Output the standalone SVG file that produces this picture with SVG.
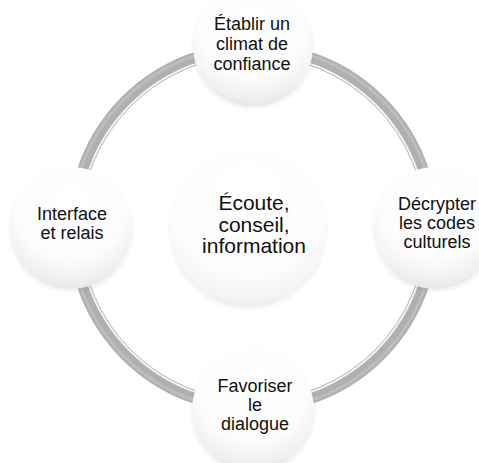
<svg xmlns="http://www.w3.org/2000/svg" width="479" height="463" viewBox="0 0 479 463">
<defs>
<radialGradient id="sph" cx="50%" cy="30%" r="70%">
<stop offset="0" stop-color="#ffffff"/>
<stop offset="0.65" stop-color="#fcfcfc"/>
<stop offset="0.9" stop-color="#f0f0f0"/>
<stop offset="1" stop-color="#e6e6e6"/>
</radialGradient>
<radialGradient id="sphc" cx="50%" cy="30%" r="70%">
<stop offset="0" stop-color="#ffffff"/>
<stop offset="0.7" stop-color="#fdfdfd"/>
<stop offset="0.95" stop-color="#f3f3f3"/>
<stop offset="1" stop-color="#ececec"/>
</radialGradient>
<filter id="sh" x="-20%" y="-20%" width="140%" height="140%">
<feGaussianBlur in="SourceAlpha" stdDeviation="2"/>
<feOffset dx="0" dy="2"/>
<feComponentTransfer><feFuncA type="linear" slope="0.08"/></feComponentTransfer>
<feMerge><feMergeNode/><feMergeNode in="SourceGraphic"/></feMerge>
</filter>
</defs>
<style>
.t{font-family:"Liberation Sans",Arial,sans-serif;font-size:18px;fill:#111;text-anchor:middle}
.c{font-size:21px}
.node{fill:url(#sph);filter:url(#sh)}
</style>
<rect width="479" height="463" fill="#ffffff"/>
<g id="connectors">
<circle cx="253" cy="228" r="180" fill="none" stroke="#b0b0b0" stroke-width="11"/>
<circle cx="253" cy="228" r="182" fill="none" stroke="#bdbdbd" stroke-width="3"/>
<circle cx="253" cy="228" r="174" fill="none" stroke="#f2f2f2" stroke-width="1.6"/>
<circle cx="253" cy="228" r="172.6" fill="none" stroke="#a8a8a8" stroke-width="0.9"/>
</g>
<g id="center">
<circle cx="248" cy="228" r="78" fill="url(#sphc)" filter="url(#sh)"/>
<text class="t c" x="254" y="210">Écoute,</text>
<text class="t c" x="254" y="232">conseil,</text>
<text class="t c" x="254" y="253">information</text>
</g>
<g id="n-top">
<circle class="node" cx="253" cy="46" r="60"/>
<text class="t" x="252" y="30">Établir un</text>
<text class="t" x="252" y="50">climat de</text>
<text class="t" x="252" y="70">confiance</text>
</g>
<g id="n-left">
<circle class="node" cx="71" cy="228" r="61"/>
<text class="t" x="72" y="220">Interface</text>
<text class="t" x="72" y="239">et relais</text>
</g>
<g id="n-right">
<circle class="node" cx="435" cy="228" r="61"/>
<text class="t" x="437" y="210">Décrypter</text>
<text class="t" x="437" y="229">les codes</text>
<text class="t" x="437" y="248">culturels</text>
</g>
<g id="n-bottom">
<circle class="node" cx="253" cy="410" r="61"/>
<text class="t" x="255" y="392">Favoriser</text>
<text class="t" x="255" y="411">le</text>
<text class="t" x="255" y="430">dialogue</text>
</g>
</svg>
